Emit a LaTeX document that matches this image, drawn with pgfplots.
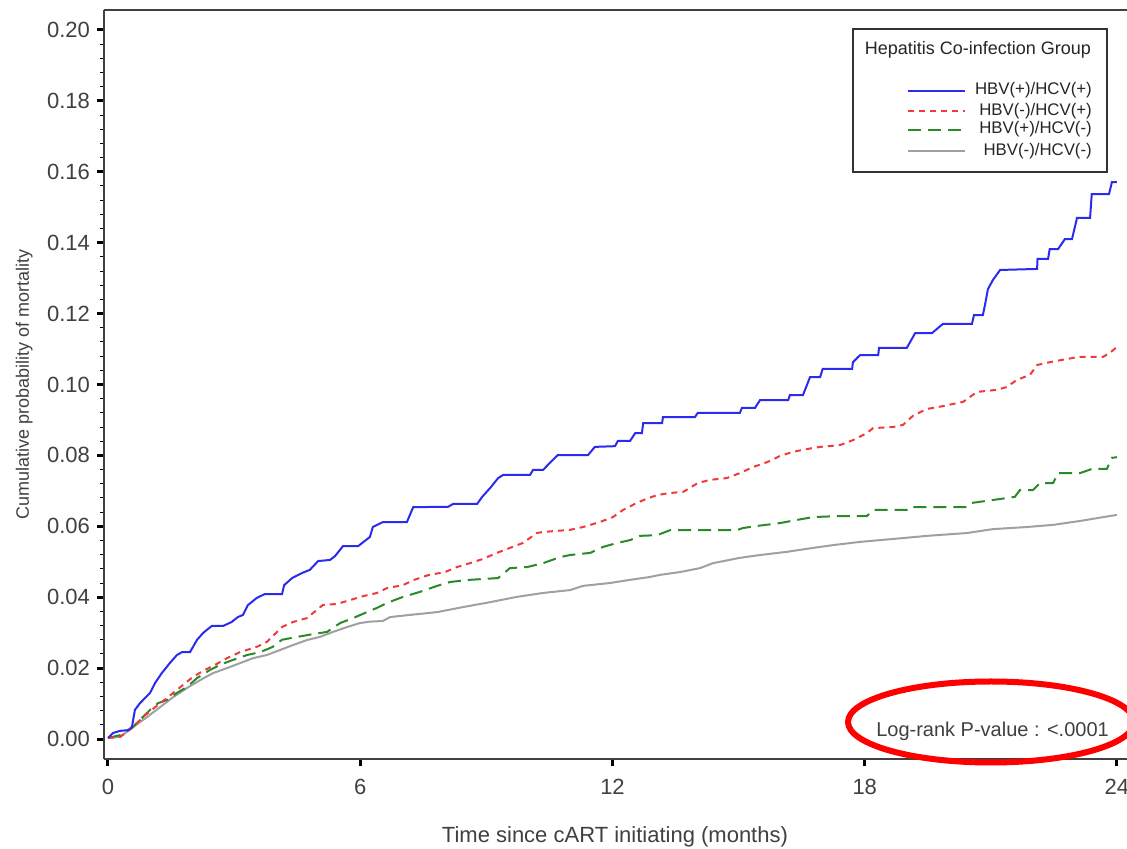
\documentclass[border=0pt]{standalone}
\usepackage{fontspec}
\setmainfont{Liberation Sans}
\usepackage{pgfplots}
\pgfplotsset{compat=1.18}
\usepackage{pgfplotstable}
\definecolor{kmBlue}{HTML}{2B2BF0}
\definecolor{kmRed}{HTML}{F03A3A}
\definecolor{kmGreen}{HTML}{2A8A2A}
\definecolor{kmGray}{HTML}{A0A0A0}
\definecolor{txt}{HTML}{404040}

% cumulative mortality, months vs probability
\pgfplotstableread{
t p
0 0.0003
0.12 0.0017
0.29 0.0023
0.48 0.0025
0.57 0.0034
0.64 0.0082
0.76 0.0101
1.00 0.0130
1.12 0.0158
1.28 0.0186
1.47 0.0214
1.64 0.0237
1.76 0.0245
1.95 0.0245
2.12 0.0280
2.27 0.0300
2.47 0.0319
2.74 0.0319
2.94 0.0330
3.09 0.0344
3.21 0.0350
3.33 0.0378
3.54 0.0398
3.73 0.0409
4.14 0.0409
4.19 0.0434
4.38 0.0454
4.61 0.0468
4.80 0.0477
5.00 0.0502
5.28 0.0505
5.40 0.0516
5.59 0.0544
5.95 0.0544
6.23 0.0570
6.30 0.0598
6.54 0.0612
7.11 0.0612
7.26 0.0654
8.09 0.0655
8.21 0.0663
8.78 0.0663
8.90 0.0683
9.09 0.0708
9.28 0.0736
9.40 0.0745
10.04 0.0745
10.11 0.0759
10.35 0.0759
10.51 0.0779
10.70 0.0801
11.42 0.0801
11.58 0.0824
12.06 0.0826
12.13 0.0841
12.42 0.0841
12.54 0.0863
12.70 0.0863
12.73 0.0891
13.18 0.0891
13.20 0.0908
13.96 0.0908
14.03 0.0920
15.03 0.0920
15.08 0.0934
15.39 0.0934
15.51 0.0956
16.18 0.0956
16.22 0.0970
16.53 0.0970
16.70 0.1021
16.94 0.1021
17.00 0.1044
17.70 0.1044
17.72 0.1063
17.89 0.1083
18.32 0.1083
18.34 0.1103
19.00 0.1103
19.20 0.1145
19.60 0.1145
19.86 0.1171
20.55 0.1171
20.60 0.1196
20.81 0.1196
20.86 0.1224
20.93 0.1269
21.05 0.1295
21.22 0.1323
22.10 0.1326
22.11 0.1354
22.36 0.1354
22.40 0.1382
22.60 0.1382
22.76 0.1410
22.93 0.1410
23.05 0.1470
23.36 0.1470
23.40 0.1537
23.81 0.1537
23.88 0.1571
24.00 0.1571
}\hbvpos

\pgfplotstableread{
t p
0 0.0003
0.29 0.0006
0.60 0.0034
0.83 0.0062
1.07 0.0085
1.31 0.0107
1.55 0.0130
1.78 0.0152
2.02 0.0175
2.26 0.0192
2.59 0.0212
2.83 0.0228
3.14 0.0245
3.54 0.0260
3.78 0.0274
4.14 0.0316
4.40 0.0330
4.73 0.0341
5.11 0.0378
5.45 0.0381
5.76 0.0392
6.07 0.0403
6.40 0.0412
6.64 0.0426
7.02 0.0434
7.26 0.0448
7.61 0.0462
8.02 0.0471
8.30 0.0485
8.61 0.0496
8.92 0.0508
9.25 0.0525
9.56 0.0539
9.87 0.0553
10.20 0.0581
10.35 0.0584
10.99 0.0590
11.30 0.0598
11.70 0.0612
12.01 0.0626
12.25 0.0646
12.58 0.0666
12.82 0.0678
13.06 0.0688
13.37 0.0694
13.68 0.0697
14.03 0.0722
14.32 0.0731
14.72 0.0736
15.03 0.0750
15.34 0.0767
15.68 0.0781
15.98 0.0798
16.29 0.0810
16.63 0.0818
16.94 0.0824
17.41 0.0829
17.72 0.0843
18.05 0.0863
18.20 0.0877
18.67 0.0880
18.91 0.0886
19.15 0.0912
19.48 0.0931
19.86 0.0939
20.34 0.0951
20.67 0.0979
21.15 0.0985
21.38 0.0993
21.62 0.1013
21.93 0.1027
22.10 0.1055
22.41 0.1063
22.81 0.1072
23.12 0.1078
23.67 0.1078
23.83 0.1089
24.00 0.1106
}\hcvpos

\pgfplotstableread{
t p
0 0.0003
0.29 0.0011
0.57 0.0031
0.76 0.0054
1.00 0.0082
1.19 0.0101
1.40 0.0110
1.64 0.0130
1.88 0.0147
2.12 0.0172
2.43 0.0195
2.66 0.0209
2.97 0.0223
3.31 0.0237
3.62 0.0245
3.92 0.0260
4.14 0.0280
4.50 0.0288
4.88 0.0296
5.21 0.0302
5.52 0.0327
5.83 0.0341
6.16 0.0358
6.40 0.0370
6.64 0.0384
7.02 0.0401
7.42 0.0415
7.83 0.0432
8.14 0.0443
8.61 0.0449
9.28 0.0454
9.56 0.0482
9.97 0.0485
10.35 0.0496
10.75 0.0513
10.99 0.0519
11.47 0.0525
11.78 0.0542
12.11 0.0553
12.42 0.0561
12.65 0.0573
13.06 0.0575
13.37 0.0589
14.96 0.0589
15.10 0.0595
15.44 0.0601
15.98 0.0609
16.39 0.0618
16.77 0.0626
17.41 0.0629
18.05 0.0629
18.20 0.0646
19.00 0.0646
19.08 0.0654
20.43 0.0654
20.55 0.0666
21.22 0.0677
21.57 0.0683
21.69 0.0702
22.00 0.0702
22.17 0.0722
22.48 0.0722
22.60 0.0750
23.12 0.0750
23.41 0.0762
23.76 0.0762
23.88 0.0793
24.00 0.0795
}\hbvposneg

\pgfplotstableread{
t p
0 0.0003
0.29 0.0006
0.60 0.0034
0.93 0.0062
1.24 0.0090
1.55 0.0118
1.88 0.0144
2.19 0.0166
2.50 0.0186
2.83 0.0200
3.14 0.0214
3.45 0.0228
3.78 0.0237
4.09 0.0251
4.40 0.0265
4.73 0.0279
5.04 0.0288
5.35 0.0302
5.69 0.0316
5.99 0.0327
6.23 0.0331
6.54 0.0333
6.71 0.0344
7.18 0.0350
7.83 0.0358
8.44 0.0372
9.09 0.0386
9.73 0.0401
10.35 0.0412
10.99 0.0420
11.30 0.0432
11.94 0.0440
12.42 0.0449
12.89 0.0457
13.13 0.0463
13.61 0.0471
14.08 0.0482
14.39 0.0496
15.03 0.0511
15.51 0.0519
16.15 0.0528
16.77 0.0539
17.25 0.0547
17.89 0.0556
18.36 0.0561
18.84 0.0566
19.48 0.0573
20.43 0.0581
21.05 0.0592
21.86 0.0598
22.48 0.0604
23.12 0.0615
23.83 0.0629
24.00 0.0632
}\hbvneg

\begin{document}
\begin{tikzpicture}[font=\fontsize{11}{13}\selectfont]
\useasboundingbox (-52pt,-45pt) rectangle (511.5pt,379.5pt);
\begin{axis}[
    scale only axis,
    width=518pt, height=374.5pt,
    xmin=-0.095, xmax=24.548,
    ymin=-0.00564, ymax=0.20564,
    axis x line*=box,
    axis y line*=left,
    xtick={0,6,12,18,24},
    ytick={0,0.02,...,0.2},
    minor y tick num=4,
    xtick pos=bottom,
    ytick pos=left,
    tick align=outside,
    major tick length=3.5pt,
    minor tick length=2pt,
    major tick style={black, line width=1.5pt},
    minor tick style={black, line width=0.5pt},
    axis line style={txt, line width=0.8pt, -},
    yticklabel style={/pgf/number format/.cd, fixed, fixed zerofill, precision=2},
    /pgf/number format/assume math mode=true,
    ticklabel style={text=txt, font=\fontsize{11}{13}\selectfont},
    xticklabel style={yshift=-3pt},
    xlabel={Time since cART initiating (months)},
    xlabel style={at={(axis description cs:0.4932,-0.1041)}, anchor=center, text=txt,
                  font=\fontsize{11}{13}\selectfont},
    ylabel={Cumulative probability of mortality},
    ylabel style={at={(axis description cs:-0.077,0.5)}, anchor=center, text=txt,
                  font=\fontsize{9}{11}\selectfont},
    clip=true,
  ]
  \addplot[kmGray, line width=1pt] table[x=t,y=p] {\hbvneg};
  \addplot[kmGreen, line width=1pt, dash pattern=on 6.5pt off 3.5pt] table[x=t,y=p] {\hbvposneg};
  \addplot[kmRed, line width=1pt, dash pattern=on 3pt off 2.5pt] table[x=t,y=p] {\hcvpos};
  \addplot[kmBlue, line width=1pt] table[x=t,y=p] {\hbvpos};

  % legend box
  \draw[black!80, line width=0.75pt, fill=white]
    (axis cs:17.72,0.1599) rectangle (axis cs:23.76,0.2003);
  \node[text=black!85, font=\fontsize{9}{11}\selectfont] at (axis cs:20.69,0.1944)
    {Hepatitis Co-infection Group};
  \draw[kmBlue, line width=1pt] (axis cs:19.03,0.1829) -- (axis cs:20.39,0.1829);
  \draw[kmRed, line width=1pt, dash pattern=on 3pt off 2.5pt] (axis cs:19.03,0.1772) -- (axis cs:20.39,0.1772);
  \draw[kmGreen, line width=1pt, dash pattern=on 6.5pt off 3.5pt] (axis cs:19.03,0.1719) -- (axis cs:20.39,0.1719);
  \draw[kmGray, line width=1pt] (axis cs:19.03,0.1659) -- (axis cs:20.39,0.1659);
  \begin{scope}[every node/.style={anchor=east, inner sep=0pt, text=black!85, font=\fontsize{8.4}{10}\selectfont}]
    \node at (axis cs:23.41,0.1829) {HBV(+)/HCV(+)};
    \node at (axis cs:23.41,0.1772) {HBV(-)/HCV(+)};
    \node at (axis cs:23.41,0.1719) {HBV(+)/HCV(-)};
    \node at (axis cs:23.41,0.1659) {HBV(-)/HCV(-)};
  \end{scope}

  % p-value annotation
  \node[text=txt, font=\fontsize{10}{12}\selectfont] at (axis cs:21.04,0.0022)
    {Log-rank P-value : <.0001};
\end{axis}
\draw[red, line width=3pt] (443.5pt,18.5pt) ellipse (71.5pt and 20.25pt);
\end{tikzpicture}
\end{document}
